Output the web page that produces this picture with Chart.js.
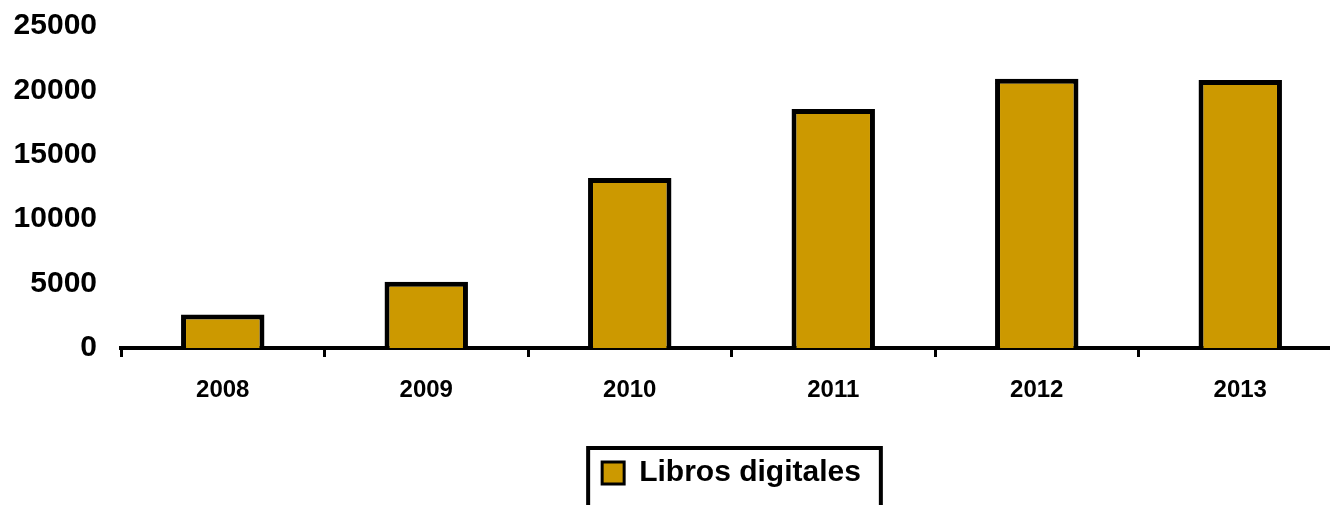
<!DOCTYPE html>
<html>
<head>
<meta charset="utf-8">
<script src="https://cdn.jsdelivr.net/npm/chart.js@4.4.0/dist/chart.umd.min.js"></script>
<style>
  html, body { margin: 0; padding: 0; background: #fff; overflow: hidden; }
  #wrap { position: absolute; left: 0; top: 0; width: 1345px; height: 520px; }
</style>
</head>
<body>
<div id="wrap"><canvas id="c" width="1345" height="520"></canvas></div>
<script>
const categories = ["2008", "2009", "2010", "2011", "2012", "2013"];
const seriesName = "Libros digitales";
const seriesValues = [2600, 5150, 13200, 18550, 20900, 20800];
const yTicks = [0, 5000, 10000, 15000, 20000, 25000];

const FONT = "'Liberation Sans', Arial, sans-serif";

const legendFrame = {
  id: 'legendFrame',
  afterDraw(chart) {
    const lg = chart.legend;
    if (!lg || !lg.legendHitBoxes || !lg.legendHitBoxes.length) return;
    const hb = lg.legendHitBoxes[0];
    const ctx = chart.ctx;
    ctx.save();
    ctx.strokeStyle = '#000';
    ctx.lineWidth = 4;
    ctx.strokeRect(hb.left - 14, hb.top - 10, hb.width + 34, hb.height + 80);
    ctx.restore();
  }
};

new Chart(document.getElementById('c'), {
  type: 'bar',
  data: {
    labels: categories,
    datasets: [{
      label: seriesName,
      data: seriesValues,
      backgroundColor: '#CC9900',
      borderColor: '#000000',
      borderWidth: 5,
      borderSkipped: 'start',
      barPercentage: 0.41,
      categoryPercentage: 1.0
    }]
  },
  options: {
    responsive: false,
    animation: false,
    devicePixelRatio: 1,
    layout: { padding: { top: 26, right: 3, bottom: 22, left: 0 } },
    plugins: {
      tooltip: { enabled: false },
      legend: {
        position: 'bottom',
        fullSize: false,
        labels: {
          color: '#000',
          font: { family: FONT, size: 30, weight: 'bold' },
          boxWidth: 22,
          boxHeight: 22,
          padding: 10,
          generateLabels(chart) {
            const ds = chart.data.datasets[0];
            return [{
              text: ds.label,
              fillStyle: ds.backgroundColor,
              strokeStyle: '#000',
              lineWidth: 3,
              datasetIndex: 0
            }];
          }
        }
      }
    },
    scales: {
      x: {
        offset: true,
        afterFit(scale) { scale.height = 100; },
        border: { display: true, color: '#000', width: 4 },
        grid: {
          offset: true,
          drawOnChartArea: false,
          drawTicks: true,
          tickLength: 9,
          color: '#000',
          lineWidth: 3
        },
        ticks: {
          color: '#000',
          padding: 19,
          font: { family: FONT, size: 24, weight: 'bold' }
        }
      },
      y: {
        min: 0,
        max: 25000,
        afterFit(scale) {
          scale.width = 121;
          scale.paddingTop = 0;
          scale.paddingBottom = 0;
        },
        afterBuildTicks(scale) { scale.ticks = yTicks.map(v => ({ value: v })); },
        border: { display: false },
        grid: { display: false, drawTicks: false },
        ticks: {
          color: '#000',
          padding: 24,
          font: { family: FONT, size: 30, weight: 'bold' },
          callback: (v) => String(v)
        }
      }
    }
  },
  plugins: [legendFrame]
});
</script>
</body>
</html>
